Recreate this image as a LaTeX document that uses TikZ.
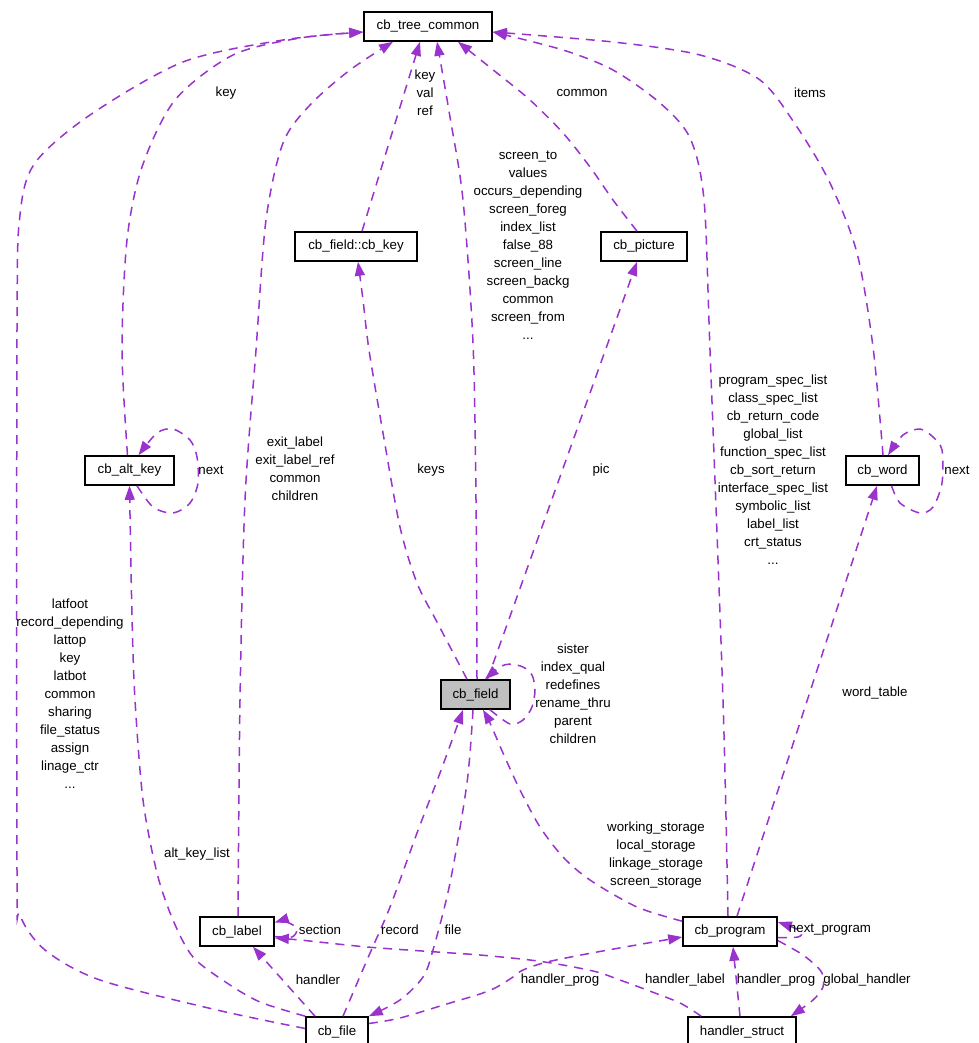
\documentclass[tikz,border=0pt]{standalone}
\usepackage{fontspec}
\setmainfont{Liberation Sans}
\usetikzlibrary{arrows.meta,calc}
\definecolor{edgec}{HTML}{9A32CD}
\definecolor{fieldgray}{HTML}{BFBFBF}
\newcommand\dxfont{\fontsize{13.3}{18}\selectfont}
\begin{document}
\begin{tikzpicture}[x=1pt,y=-1pt,
  box/.style={draw=black, line width=1.6pt, fill=white, minimum height=29pt, inner sep=0pt, font=\dxfont},
  lbl/.style={inner sep=0pt, align=center, font=\dxfont, text=black},
  rel/.style={draw=edgec, line width=1.5pt, dash pattern=on 9pt off 7pt, -{Triangle[length=14pt,width=10pt]}},
]
\useasboundingbox (0,0) rectangle (978,1043);
% nodes
\node[box, minimum width=128pt] (tree) at (428,26.5) {cb\_tree\_common};
\node[box, minimum width=122pt] (key) at (356,246.5) {cb\_field::cb\_key};
\node[box, minimum width=86pt] (pict) at (644,246.5) {cb\_picture};
\node[box, minimum width=89pt] (alt) at (129.5,470.5) {cb\_alt\_key};
\node[box, minimum width=73pt] (word) at (882.5,470.5) {cb\_word};
\node[box, minimum width=69pt, fill=fieldgray] (field) at (475.5,694.5) {cb\_field};
\node[box, minimum width=74pt] (label) at (237,931.5) {cb\_label};
\node[box, minimum width=62pt] (file) at (337,1031.5) {cb\_file};
\node[box, minimum width=94pt] (prog) at (730,931.5) {cb\_program};
\node[box, minimum width=108pt] (hs) at (742,1031.5) {handler\_struct};
% edges
\draw[rel] ($(key.north)+(6,0)$) -- ($(tree.south)+(-8,0)$);
\draw[rel] plot[smooth] coordinates {($(alt.north)+(-2,0)$) (122,350) (127,240) (142,167) (175,100) (233,55) (300,38) ($(tree.west)+(0,5.5)$)};
\draw[rel] plot[smooth] coordinates {($(file.west)+(0,-3)$) (217,1010) (100,980) (45,950) (20,915) (17,870) (17,330) (20,215) (35,163) (90,115) (183,62) (283,40) ($(tree.west)+(0,5.5)$)};
\draw[rel] plot[smooth] coordinates {($(label.north)+(1,0)$) (240,700) (245,500) (256,350) (266,220) (283,143) (310,105) (350,70) ($(tree.south)+(-35,0)$)};
\draw[rel] plot[smooth] coordinates {($(field.north)+(1.5,0)$) (476,500) (473,343) (463,200) (450,117) ($(tree.south)+(9,0)$)};
\draw[rel] plot[smooth] coordinates {($(pict.north)+(-7,0)$) (613,200) (590,167) (563,133) (530,100) (497,73) ($(tree.south)+(30,0)$)};
\draw[rel] plot[smooth] coordinates {($(prog.north)+(-2,0)$) (723,700) (710,350) (704,200) (690,138) (660,103) (613,70) (563,50) ($(tree.east)+(0,5.5)$)};
\draw[rel] plot[smooth] coordinates {($(word.north)+(0.5,0)$) (873,347) (857,253) (830,183) (797,127) (760,80) (700,55) (613,42) ($(tree.east)+(0,5.5)$)};
\draw[rel] plot[smooth] coordinates {($(alt.south)+(7.5,0)$) (153,507) (173,513) (190,503) (198,483) (197,457) (190,440) (173,429) (157,433) ($(alt.north)+(9,0)$)};
\draw[rel] plot[smooth] coordinates {($(word.south)+(9,0)$) (900,503) (920,513) (933,507) (942,483) (942,450) (933,437) (920,429) (903,435) ($(word.north)+(5.5,0)$)};
\draw[rel] plot[smooth] coordinates {($(field.north)+(-8.5,0)$) (437,622) (417,583) (400,527) (383,433) (369,350) (363,300) ($(key.south)+(2,0)$)};
\draw[rel] ($(field.north)+(12,0)$) -- ($(pict.south)+(-7,0)$);
\draw[rel] plot[smooth] coordinates {($(field.south)+(14.5,0)$) (510,724) (523,720) (532,707) (535,690) (532,675) (523,667) (510,664) (500,667) ($(field.north)+(9.5,0)$)};
\draw[rel] plot[smooth] coordinates {($(file.north)+(6,0)$) (367,960) (390,907) (417,833) (440,773) ($(field.south)+(-12.5,0)$)};
\draw[rel] plot[smooth] coordinates {($(field.south)+(-2.5,0)$) (467,783) (450,883) (433,950) (423,977) (400,1000) (file.north east)};
\draw[rel] plot[smooth] coordinates {($(prog.north west)+(0,5)$) (637,907) (590,880) (563,857) (540,827) (520,790) (503,753) (490,723) ($(field.south)+(7.5,0)$)};
\draw[rel] ($(file.north)+(-22,0)$) -- ($(label.south)+(16,0)$);
\draw[rel] plot[smooth] coordinates {($(label.east)+(0,5)$) (292,937) (297,930) (293,925) (283,921) ($(label.east)+(0,-9)$)};
\draw[rel] plot[smooth] coordinates {($(hs.north west)+(14,0)$) (680,1003) (647,990) (620,980) (597,972) (563,965) (530,960) (480,955) (437,952) (367,947) (300,940) ($(label.east)+(0,6.5)$)};
\draw[rel] plot[smooth] coordinates {($(file.east)+(0,-8)$) (400,1018) (450,1003) (480,994) (497,987) (513,977) (523,970) (547,962) (597,952) ($(prog.west)+(0,5.5)$)};
\draw[rel] ($(hs.north)+(-2,0)$) -- ($(prog.south)+(3,0)$);
\draw[rel] plot[smooth] coordinates {($(prog.east)+(0,9)$) (800,953) (813,963) (822,973) (823,987) (813,1000) ($(hs.north east)+(-6,0)$)};
\draw[rel] plot[smooth] coordinates {($(prog.east)+(0,6)$) (798,937) (802,932) (792,927) ($(prog.east)+(0,-9.5)$)};
\draw[rel] ($(prog.north)+(7,0)$) -- ($(word.south)+(-5.5,0)$);
\draw[rel] plot[smooth] coordinates {(file.north west) (260,1002) (227,983) (193,957) (173,920) (157,873) (143,800) (135,700) (132,617) (alt.south)};
% labels
\node[lbl] (lkvr) at (425,93) {key\\val\\ref};
\node[lbl] (lkey) at (226,93) {key};
\node[lbl] (lcom) at (582,93) {common};
\node[lbl] (litems) at (810,93) {items};
\node[lbl] (lfield) at (528,245) {screen\_to\\values\\occurs\_depending\\screen\_foreg\\index\_list\\false\_88\\screen\_line\\screen\_backg\\common\\screen\_from\\...};
\node[lbl] (lexit) at (295,469) {exit\_label\\exit\_label\_ref\\common\\children};
\node[lbl] (lkeys) at (431,470) {keys};
\node[lbl] (lpic) at (601,470) {pic};
\node[lbl] (lprog) at (773,470) {program\_spec\_list\\class\_spec\_list\\cb\_return\_code\\global\_list\\function\_spec\_list\\cb\_sort\_return\\interface\_spec\_list\\symbolic\_list\\label\_list\\crt\_status\\...};
\node[lbl] (lfile) at (70,693.5) {latfoot\\record\_depending\\lattop\\key\\latbot\\common\\sharing\\file\_status\\assign\\linage\_ctr\\...};
\node[lbl] (lself) at (573,694) {sister\\index\_qual\\redefines\\rename\_thru\\parent\\children};
\node[lbl] (lwt) at (875,693) {word\_table};
\node[lbl] (lws) at (656,855) {working\_storage\\local\_storage\\linkage\_storage\\screen\_storage};
\node[lbl] (lakl) at (197,854) {alt\_key\_list};
\node[lbl] (lsec) at (320,930) {section};
\node[lbl] (lrec) at (400,930) {record};
\node[lbl] (lfl) at (453,930) {file};
\node[lbl] (lhnd) at (318,980) {handler};
\node[lbl] (lhp1) at (560,980) {handler\_prog};
\node[lbl] (lhl) at (685,980) {handler\_label};
\node[lbl] (lhp2) at (776,980) {handler\_prog};
\node[lbl] (lgh) at (867,980) {global\_handler};
\node[lbl] (lnp) at (830,930) {next\_program};
\node[lbl] (lnext1) at (211,470) {next};
\node[lbl] (lnext2) at (957,470) {next};
\end{tikzpicture}
\end{document}
